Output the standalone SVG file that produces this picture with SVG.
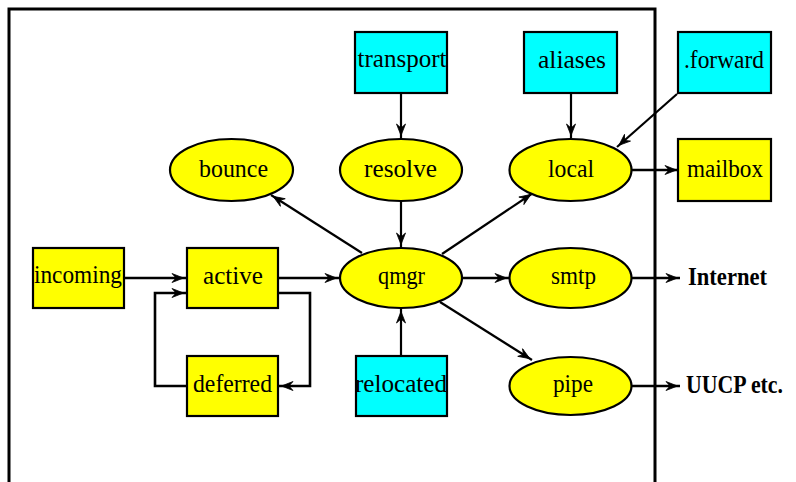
<svg xmlns="http://www.w3.org/2000/svg" width="796" height="482" viewBox="0 0 796 482">
<style>
.box{stroke:#000;stroke-width:2.2}
.y{fill:#ffff00}
.c{fill:#00ffff}
.lbl{font-family:"Liberation Serif","Times New Roman",serif;font-size:26px;fill:#000;text-anchor:middle}
.ext{font-family:"Liberation Serif","Times New Roman",serif;font-size:25px;font-weight:bold;fill:#000}
.edge{fill:none;stroke:#000;stroke-width:2.2;marker-end:url(#arr)}
.edge2{fill:none;stroke:#000;stroke-width:2.6;marker-end:url(#arr)}
</style>
<defs>
<marker id="arr" markerUnits="userSpaceOnUse" markerWidth="16" markerHeight="12" viewBox="-14 -6 16 12" refX="0" refY="0" orient="auto" overflow="visible">
<path d="M-2.5,0 L-14,-4.5 L-10,0 L-14,4.5 Z" fill="#000" stroke="#000" stroke-width="0.8"/>
</marker>
</defs>
<rect width="796" height="482" fill="#fff"/>
<path id="frame" d="M9,482 V9 H655 V482" fill="none" stroke="#000" stroke-width="3"/>
<g id="connectors">
<path class="edge" d="M401,94 V138"/>
<path class="edge" d="M571,94 V138"/>
<path class="edge" d="M677,94 L617,147"/>
<path class="edge2" d="M632,170 H679"/>
<path class="edge" d="M401,202 V247"/>
<path class="edge" d="M362,253 L271,195"/>
<path class="edge" d="M442,254 L533,193"/>
<path class="edge2" d="M125,278 H186"/>
<path class="edge2" d="M279,278 H339"/>
<path class="edge2" d="M463,278 H509"/>
<path class="edge" d="M440,302 L532,360"/>
<path class="edge" d="M401,355 V309"/>
<path class="edge2" d="M279,293 H310 V386 H279"/>
<path class="edge2" d="M186,386 H155 V293 H186"/>
<path class="edge2" d="M632,278 H680"/>
<path class="edge2" d="M632,386 H680"/>
</g>
<g id="transport"><rect class="box c" x="355" y="32" width="92" height="61"/><text class="lbl" x="402" y="67" textLength="89" lengthAdjust="spacingAndGlyphs">transport</text></g>
<g id="aliases"><rect class="box c" x="524" y="32" width="93" height="61"/><text class="lbl" x="572" y="68" textLength="68" lengthAdjust="spacingAndGlyphs">aliases</text></g>
<g id="forward"><rect class="box c" x="678" y="32" width="93" height="61"/><text class="lbl" x="724" y="68" textLength="80" lengthAdjust="spacingAndGlyphs">.forward</text></g>
<g id="mailbox"><rect class="box y" x="678" y="139" width="93" height="62"/><text class="lbl" x="725" y="177" textLength="76" lengthAdjust="spacingAndGlyphs">mailbox</text></g>
<g id="bounce"><ellipse class="box y" cx="231.5" cy="170" rx="61.5" ry="31"/><text class="lbl" x="233.5" y="177" textLength="69" lengthAdjust="spacingAndGlyphs">bounce</text></g>
<g id="resolve"><ellipse class="box y" cx="401" cy="170" rx="61" ry="31"/><text class="lbl" x="400.5" y="177" textLength="73" lengthAdjust="spacingAndGlyphs">resolve</text></g>
<g id="local"><ellipse class="box y" cx="570.5" cy="170" rx="61" ry="31"/><text class="lbl" x="571" y="177" textLength="46" lengthAdjust="spacingAndGlyphs">local</text></g>
<g id="incoming"><rect class="box y" x="33" y="248" width="91" height="60"/><text class="lbl" x="78" y="283" textLength="88" lengthAdjust="spacingAndGlyphs">incoming</text></g>
<g id="active"><rect class="box y" x="187" y="248" width="91" height="60"/><text class="lbl" x="233" y="284" textLength="60" lengthAdjust="spacingAndGlyphs">active</text></g>
<g id="qmgr"><ellipse class="box y" cx="401" cy="278" rx="61" ry="30"/><text class="lbl" x="401.5" y="284" textLength="47" lengthAdjust="spacingAndGlyphs">qmgr</text></g>
<g id="smtp"><ellipse class="box y" cx="570.5" cy="278" rx="61" ry="30"/><text class="lbl" x="573.5" y="284" textLength="45" lengthAdjust="spacingAndGlyphs">smtp</text></g>
<g id="deferred"><rect class="box y" x="187" y="356" width="91" height="60"/><text class="lbl" x="232.5" y="392" textLength="79" lengthAdjust="spacingAndGlyphs">deferred</text></g>
<g id="relocated"><rect class="box c" x="356" y="356" width="91" height="60"/><text class="lbl" x="401" y="392" textLength="92" lengthAdjust="spacingAndGlyphs">relocated</text></g>
<g id="pipe"><ellipse class="box y" cx="570.5" cy="386" rx="61" ry="29"/><text class="lbl" x="573" y="392" textLength="40" lengthAdjust="spacingAndGlyphs">pipe</text></g>
<g id="internet"><text class="ext" x="688" y="285" textLength="79" lengthAdjust="spacingAndGlyphs">Internet</text></g>
<g id="uucp"><text class="ext" x="686" y="393" font-size="24" textLength="97" lengthAdjust="spacingAndGlyphs">UUCP etc.</text></g>
</svg>
